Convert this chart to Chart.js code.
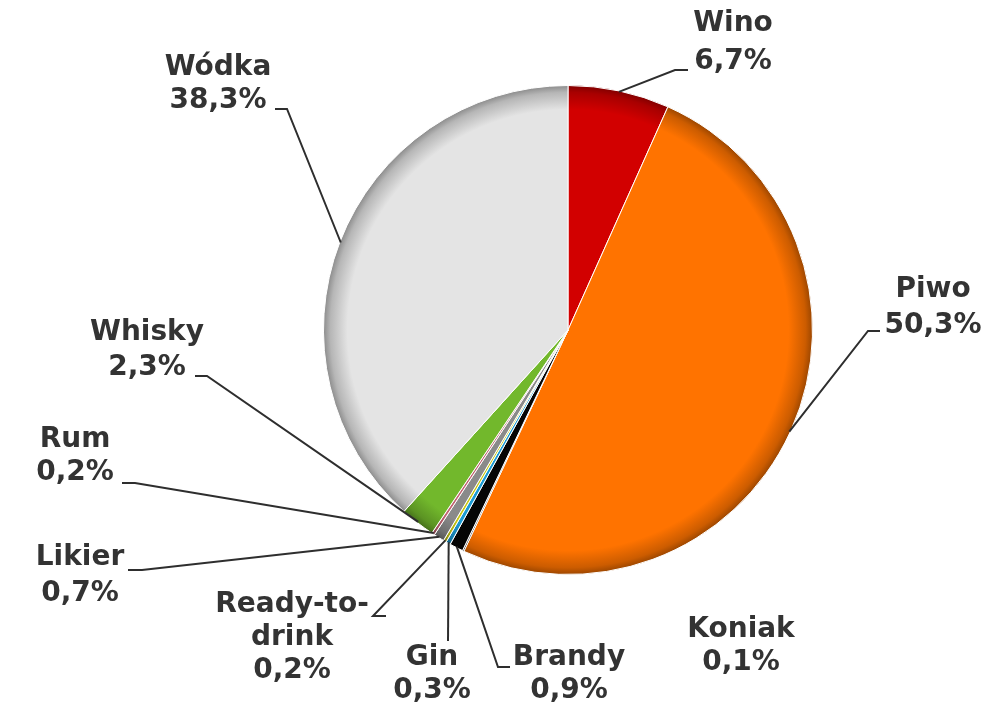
<!DOCTYPE html>
<html>
<head>
<meta charset="utf-8">
<script src="https://cdn.jsdelivr.net/npm/chart.js@4"></script>
<style>
  html, body { margin: 0; padding: 0; background: #ffffff; }
  #wrap { width: 991px; height: 705px; position: relative; }
</style>
</head>
<body>
<div id="wrap"><canvas id="pie-napoje" width="991" height="705"></canvas></div>
<script>
// dane - udzial w rynku
var kategorie = ['Wino', 'Piwo', 'Koniak', 'Brandy', 'Gin', 'Ready-to-drink', 'Likier', 'Rum', 'Whisky', 'Wódka'];
var udzial = [6.7, 50.3, 0.1, 0.9, 0.3, 0.2, 0.7, 0.2, 2.3, 38.3];
var kolory = ['#d20000', '#ff7300', '#3a3a3a', '#050505', '#1b9bd4', '#c8c814', '#8a8a8a', '#c26472', '#72b82c', '#e4e4e4'];

// rozmieszczenie etykiet: linie tekstu (x srodka, y), lamanie linii (punkty od tekstu do wycinka)
var etykietyTekst = [
    ['Wino'], ['Piwo'], ['Koniak'], ['Brandy'], ['Gin'], ['Ready-to-', 'drink'], ['Likier'], ['Rum'], ['Whisky'], ['Wódka']
];
var etykietyPoz = [
    {x: 733, y: 24, dy: 38, linia: [[688, 70], [675, 70]]},
    {x: 933, y: 290, dy: 36, linia: [[880, 331], [868, 331]]},
    {x: 741, y: 630, dy: 33, linia: null},
    {x: 569, y: 658, dy: 33, linia: [[510, 667], [498, 667]]},
    {x: 432, y: 658, dy: 33, linia: [[448, 641]]},
    {x: 292, y: 605, dy: 33, linia: [[386, 616], [373, 616]]},
    {x: 80, y: 558, dy: 36, linia: [[128, 570], [142, 570]]},
    {x: 75, y: 440, dy: 33, linia: [[122, 483], [135, 483]]},
    {x: 147, y: 333, dy: 35, linia: [[195, 376], [207, 376]]},
    {x: 218, y: 68, dy: 33, linia: [[275, 109], [287, 109]]}
];

function formatProc(v) {
    return v.toFixed(1).replace('.', ',') + '%';
}

function przyciemnij(hex, f) {
    var r = parseInt(hex.substr(1, 2), 16), g = parseInt(hex.substr(3, 2), 16), b = parseInt(hex.substr(5, 2), 16);
    return 'rgb(' + Math.round(r * f) + ',' + Math.round(g * f) + ',' + Math.round(b * f) + ')';
}

//Etykiety z liniami odniesienia
var etykietyPlugin = {
    id: 'etykiety',
    afterDraw: function (chart) {
        var ctx = chart.ctx;
        var meta = chart.getDatasetMeta(0);
        ctx.save();
        ctx.strokeStyle = '#2e2e2e';
        ctx.lineWidth = 2;
        meta.data.forEach(function (arc, i) {
            var p = etykietyPoz[i];
            if (p.linia) {
                var props = arc.getProps(['x', 'y', 'startAngle', 'endAngle', 'outerRadius'], true);
                var mid = (props.startAngle + props.endAngle) / 2;
                var ax = props.x + Math.cos(mid) * (props.outerRadius - 1);
                var ay = props.y + Math.sin(mid) * (props.outerRadius - 1);
                ctx.beginPath();
                ctx.moveTo(p.linia[0][0], p.linia[0][1]);
                for (var k = 1; k < p.linia.length; k++) {
                    ctx.lineTo(p.linia[k][0], p.linia[k][1]);
                }
                ctx.lineTo(ax, ay);
                ctx.stroke();
            }
        });
        ctx.fillStyle = '#333333';
        ctx.font = 'bold 28px "DejaVu Sans", Verdana, sans-serif';
        ctx.textAlign = 'center';
        ctx.textBaseline = 'middle';
        kategorie.forEach(function (k, i) {
            var p = etykietyPoz[i];
            var linie = etykietyTekst[i].concat([formatProc(udzial[i])]);
            linie.forEach(function (t, j) {
                ctx.fillText(t, p.x, p.y + j * p.dy);
            });
        });
        ctx.restore();
    }
};

var ctx_napoje = document.getElementById('pie-napoje');

var chartNapoje = new Chart(ctx_napoje, {
    type: 'pie',
    data: {
        labels: kategorie,
        datasets: [{
            data: udzial,
            backgroundColor: function (c) {
                var el = c.element;
                var base = kolory[c.dataIndex];
                if (!el || !c.chart.chartArea) return base;
                var area = c.chart.chartArea;
                var cx = (area.left + area.right) / 2, cy = (area.top + area.bottom) / 2;
                var r = Math.min(area.right - area.left, area.bottom - area.top) / 2;
                var g = c.chart.ctx.createRadialGradient(cx, cy, 0, cx, cy, r);
                g.addColorStop(0, base);
                g.addColorStop(0.9, base);
                g.addColorStop(0.97, przyciemnij(base, 0.8));
                g.addColorStop(1, przyciemnij(base, 0.6));
                return g;
            },
            borderColor: '#ffffff',
            borderWidth: 1
        }]
    },
    options: {
        responsive: false,
        animation: false,
        layout: {
            padding: {left: 323, right: 178, top: 85, bottom: 130}
        },
        plugins: {
            legend: {display: false},
            tooltip: {enabled: false}
        }
    },
    plugins: [etykietyPlugin]
});
</script>
</body>
</html>
